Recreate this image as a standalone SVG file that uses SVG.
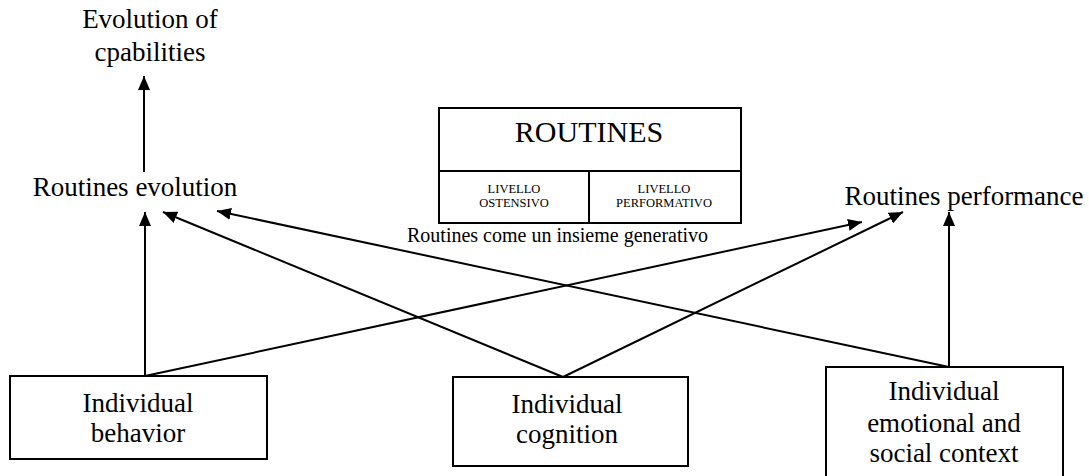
<svg xmlns="http://www.w3.org/2000/svg" width="1089" height="476" viewBox="0 0 1089 476">
<defs>
<marker id="arr" viewBox="0 0 14 12" refX="14" refY="6" markerWidth="14" markerHeight="12" markerUnits="userSpaceOnUse" orient="auto">
<path d="M0,0 L14,6 L0,12 Z" fill="#000"/>
</marker>
<style>
text{font-family:"Liberation Serif","Times New Roman",serif;fill:#000;}
.t{font-size:27px;text-anchor:middle;}
.s{font-size:12.5px;text-anchor:middle;}
.box{fill:#fff;stroke:#000;stroke-width:2;}
.c line{stroke:#000;stroke-width:2;marker-end:url(#arr);}
</style>
</defs>
<rect width="1089" height="476" fill="#fff"/>
<g id="connectors" class="c">
<line x1="144" y1="172" x2="144" y2="76"/>
<line x1="145" y1="376" x2="145" y2="212"/>
<line x1="145" y1="376" x2="862" y2="222"/>
<line x1="563" y1="377" x2="163" y2="212"/>
<line x1="563" y1="377" x2="903" y2="212"/>
<line x1="949" y1="367" x2="949" y2="212"/>
<line x1="949" y1="367" x2="217" y2="211"/>
</g>
<g id="evolution-capabilities">
<text class="t" x="150" y="28">Evolution of</text>
<text class="t" x="150" y="61">cpabilities</text>
</g>
<g id="routines-evolution">
<text class="t" x="135" y="196">Routines evolution</text>
</g>
<g id="routines-performance">
<text class="t" x="964" y="205">Routines performance</text>
</g>
<g id="routines">
<rect class="box" x="439" y="108" width="302" height="115"/>
<line x1="439" y1="171" x2="741" y2="171" stroke="#000" stroke-width="2"/>
<line x1="589" y1="171" x2="589" y2="223" stroke="#000" stroke-width="2"/>
<text x="589" y="142" style="font-size:30px;text-anchor:middle">ROUTINES</text>
<text class="s" x="514" y="193">LIVELLO</text>
<text class="s" x="514" y="207">OSTENSIVO</text>
<text class="s" x="664" y="193">LIVELLO</text>
<text class="s" x="664" y="207">PERFORMATIVO</text>
<text x="407" y="242" style="font-size:20px">Routines come un insieme generativo</text>
</g>
<g id="individual-behavior">
<rect class="box" x="10" y="376" width="257" height="83"/>
<text class="t" x="138" y="412">Individual</text>
<text class="t" x="138" y="442">behavior</text>
</g>
<g id="individual-cognition">
<rect class="box" x="453" y="377" width="235" height="89"/>
<text class="t" x="567" y="413">Individual</text>
<text class="t" x="567" y="443">cognition</text>
</g>
<g id="individual-emotional">
<rect class="box" x="826" y="367" width="237" height="120"/>
<text class="t" x="944" y="400">Individual</text>
<text class="t" x="944" y="432">emotional and</text>
<text class="t" x="944" y="462">social context</text>
</g>
</svg>
